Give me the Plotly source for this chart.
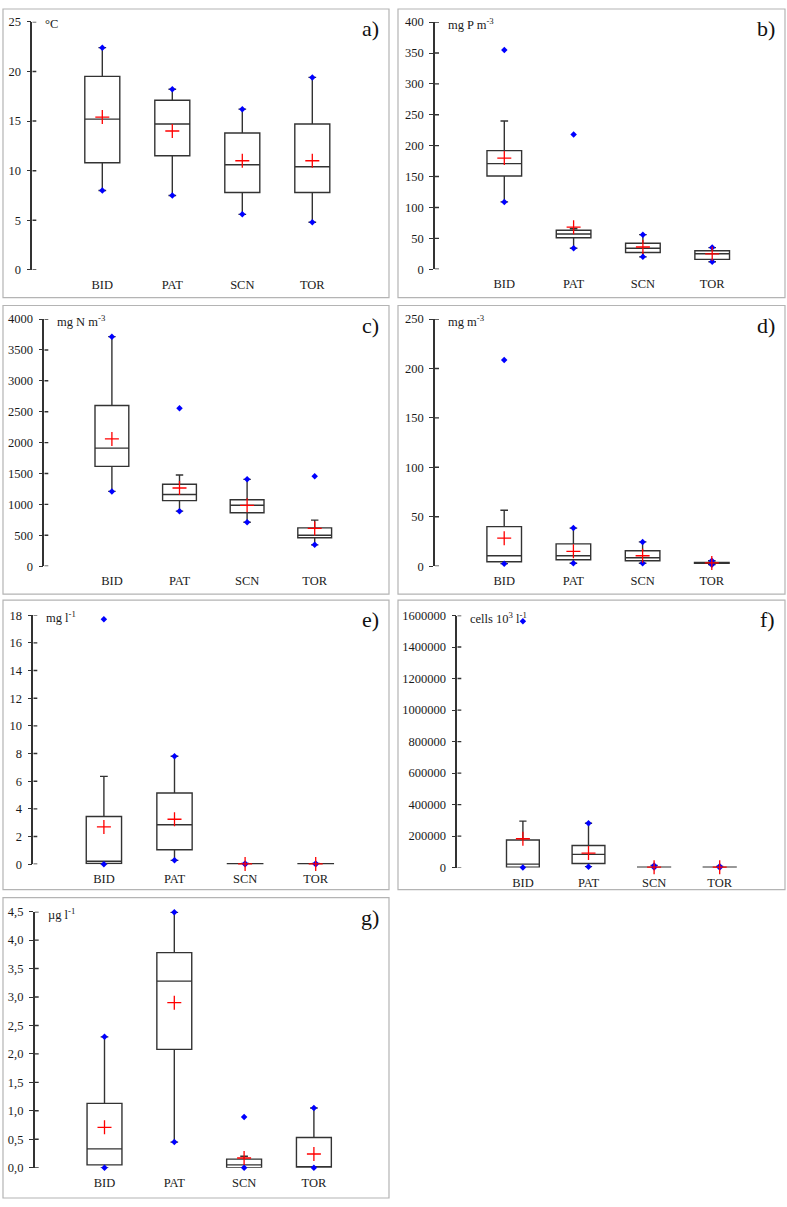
import plotly.graph_objects as go

W, H = 787, 1207

SITES = ["BID", "PAT", "SCN", "TOR"]

# a) water temperature
TEMP_Q1 = [10.8, 11.5, 7.8, 7.8]
TEMP_MED = [15.2, 14.7, 10.6, 10.4]
TEMP_Q3 = [19.5, 17.1, 13.8, 14.7]
TEMP_LO = [8.0, 7.5, 5.6, 4.8]
TEMP_HI = [22.4, 18.2, 16.2, 19.4]
TEMP_MIN = [8.0, 7.5, 5.6, 4.8]
TEMP_MAX = [22.4, 18.2, 16.2, 19.4]
TEMP_MEAN = [15.4, 14.0, 11.0, 11.0]

# b) total phosphorus
TP_Q1 = [151, 51, 27, 16]
TP_MED = [171, 57, 34, 25]
TP_Q3 = [192, 63, 42, 30]
TP_LO = [109, 34, 20, 12]
TP_HI = [240, 66, 56, 35]
TP_MIN = [109, 34, 20, 12]
TP_MAX = [355, 218, 56, 35]
TP_MEAN = [180, 68, 36, 25]

# c) total nitrogen
TN_Q1 = [1615, 1060, 865, 460]
TN_MED = [1910, 1160, 985, 500]
TN_Q3 = [2600, 1325, 1075, 620]
TN_LO = [1210, 890, 710, 345]
TN_HI = [3715, 1475, 1405, 745]
TN_MIN = [1210, 890, 710, 345]
TN_MAX = [3715, 2555, 1405, 1455]
TN_MEAN = [2060, 1265, 985, 610]

# d) chlorophyll
CHL_Q1 = [4.5, 6.5, 5.5, 2.8]
CHL_MED = [10.5, 10.5, 8.5, 3.3]
CHL_Q3 = [40, 22.5, 15.5, 3.8]
CHL_LO = [2.5, 3.0, 3.0, 1.5]
CHL_HI = [56.5, 38.5, 24.5, 5.5]
CHL_MIN = [2.5, 3.0, 3.0, 1.5]
CHL_MAX = [208.5, 38.5, 24.5, 5.5]
CHL_MEAN = [28.3, 15.0, 10.5, 3.3]

# e) mg l-1
E_Q1 = [0.05, 1.05, 0.0, 0.0]
E_MED = [0.22, 2.85, 0.01, 0.01]
E_Q3 = [3.45, 5.15, 0.03, 0.03]
E_LO = [0.0, 0.28, 0.0, 0.0]
E_HI = [6.35, 7.8, 0.05, 0.05]
E_MIN = [0.0, 0.28, 0.0, 0.0]
E_MAX = [17.7, 7.8, 0.05, 0.05]
E_MEAN = [2.7, 3.25, 0.02, 0.02]

# f) cells 10^3 l-1
F_Q1 = [2000, 26000, 0, 0]
F_MED = [22000, 84000, 500, 500]
F_Q3 = [175000, 140000, 2000, 2000]
F_LO = [0, 6000, 0, 0]
F_HI = [295000, 282000, 14000, 8000]
F_MIN = [0, 6000, 0, 0]
F_MAX = [1564000, 282000, 14000, 8000]
F_MEAN = [183000, 92000, 3000, 3000]

# g) ug l-1
G_Q1 = [0.05, 2.08, 0.0, 0.0]
G_MED = [0.33, 3.28, 0.05, 0.0]
G_Q3 = [1.13, 3.78, 0.15, 0.53]
G_LO = [0.0, 0.45, 0.0, 0.0]
G_HI = [2.30, 4.49, 0.20, 1.05]
G_MIN = [0.0, 0.45, 0.0, 0.0]
G_MAX = [2.30, 4.49, 0.89, 1.05]
G_MEAN = [0.71, 2.90, 0.17, 0.24]


# panel geometry in pixels: axis x, plot top, plot bottom, category spacing, frame box
PANELS = [
    dict(letter="a)", unit="°C", ax=32.3, top=15.0, bot=266.0, sp=70.0, ymax=25, dtick=5, fmt="d",
         frame=(3, 2, 389, 294), data=(TEMP_Q1, TEMP_MED, TEMP_Q3, TEMP_LO, TEMP_HI, TEMP_MIN, TEMP_MAX, TEMP_MEAN)),
    dict(letter="b)", unit="mg P m<sup>-3</sup>", ax=435.0, top=15.3, bot=265.3, sp=69.3, ymax=400, dtick=50, fmt="d",
         frame=(398, 2, 785, 294), data=(TP_Q1, TP_MED, TP_Q3, TP_LO, TP_HI, TP_MIN, TP_MAX, TP_MEAN)),
    dict(letter="c)", unit="mg N m<sup>-3</sup>", ax=44.3, top=315.7, bot=565.7, sp=67.6, ymax=4000, dtick=500, fmt="d",
         frame=(3, 302, 389, 594), data=(TN_Q1, TN_MED, TN_Q3, TN_LO, TN_HI, TN_MIN, TN_MAX, TN_MEAN)),
    dict(letter="d)", unit="mg m<sup>-3</sup>", ax=435.0, top=315.7, bot=565.7, sp=69.2, ymax=250, dtick=50, fmt="d",
         frame=(398, 302, 785, 594), data=(CHL_Q1, CHL_MED, CHL_Q3, CHL_LO, CHL_HI, CHL_MIN, CHL_MAX, CHL_MEAN)),
    dict(letter="e)", unit="mg l<sup>-1</sup>", ax=33.3, top=615.3, bot=867.3, sp=70.6, ymax=18, dtick=2, fmt="d",
         frame=(3, 600, 389, 893), data=(E_Q1, E_MED, E_Q3, E_LO, E_HI, E_MIN, E_MAX, E_MEAN)),
    dict(letter="f)", unit="cells 10<sup>3</sup> l<sup>-1</sup>", ax=457.3, top=615.7, bot=870.7, sp=65.6,
         ymax=1600000, dtick=200000, fmt="d",
         frame=(398, 600, 785, 893), data=(F_Q1, F_MED, F_Q3, F_LO, F_HI, F_MIN, F_MAX, F_MEAN)),
    dict(letter="g)", unit="µg l<sup>-1</sup>", ax=34.7, top=915.3, bot=1174.3, sp=69.8, ymax=4.5, dtick=0.5, fmt=".1f",
         frame=(3, 901, 389, 1205), data=(G_Q1, G_MED, G_Q3, G_LO, G_HI, G_MIN, G_MAX, G_MEAN)),
]

FONT = "'Liberation Serif', 'Times New Roman', Times, serif"
INK = "#333333"
XPOS = list(range(len(SITES)))

fig = go.Figure()
shapes = []
annotations = []

for i, p in enumerate(PANELS):
    n = "" if i == 0 else str(i + 1)
    xref, yref = "x" + n, "y" + n
    q1, med, q3, lo, hi, vmin, vmax, vmean = p["data"]

    fig.add_trace(go.Box(
        x=XPOS, q1=q1, median=med, q3=q3, lowerfence=lo, upperfence=hi,
        width=0.5, whiskerwidth=0.22, boxpoints=False,
        fillcolor="rgba(0,0,0,0)", line=dict(color=INK, width=1.4),
        xaxis=xref, yaxis=yref, showlegend=False, hoverinfo="skip"
    ))

    fig.add_trace(go.Scatter(
        x=XPOS + XPOS, y=list(vmin) + list(vmax), mode="markers",
        marker=dict(symbol="diamond", size=5, color="#0000ff"),
        cliponaxis=False, xaxis=xref, yaxis=yref, showlegend=False
    ))

    fig.add_trace(go.Scatter(
        x=XPOS, y=vmean, mode="markers",
        marker=dict(symbol="cross-thin", size=10, line=dict(color="#ff0000", width=1.3)),
        cliponaxis=False, xaxis=xref, yaxis=yref, showlegend=False
    ))

    x0 = p["ax"] / W
    x1 = (p["ax"] + 4.6 * p["sp"]) / W
    y0 = 1 - p["bot"] / H
    y1 = 1 - p["top"] / H

    fig.layout["xaxis" + n] = dict(
        domain=[x0, min(x1, 1.0)], range=[-1, 3.6], anchor=yref,
        tickvals=XPOS, ticktext=SITES, ticks="outside", ticklen=3,
        tickcolor="rgba(0,0,0,0)", showline=False, showgrid=False, zeroline=False,
        tickfont=dict(family=FONT, size=12.5, color="#1a1a1a")
    )
    fig.layout["yaxis" + n] = dict(
        domain=[y0, y1], range=[0, p["ymax"]], anchor=xref,
        dtick=p["dtick"], tick0=0, tickformat=p["fmt"],
        ticks="outside", ticklen=4, tickwidth=1.4, tickcolor=INK,
        ticklabelstandoff=3,
        showline=True, linecolor=INK, linewidth=1.5,
        showgrid=False, zeroline=False,
        tickfont=dict(family=FONT, size=12.5, color="#1a1a1a")
    )

    # inner half of the crossing tick marks
    k = 0
    while k * p["dtick"] <= p["ymax"] + 1e-9:
        v = k * p["dtick"]
        shapes.append(dict(
            type="line", xref=xref, yref=yref, xsizemode="pixel", xanchor=-1,
            x0=0, x1=4, y0=v, y1=v, line=dict(color=INK, width=1.4)
        ))
        k += 1

    fx0, fy0, fx1, fy1 = p["frame"]
    shapes.append(dict(
        type="rect", xref="paper", yref="paper",
        x0=fx0 / W, x1=fx1 / W, y0=1 - fy1 / H, y1=1 - fy0 / H,
        line=dict(color="#b4b4b4", width=1.2)
    ))

    annotations.append(dict(
        text=p["unit"], xref="paper", yref="paper",
        x=(p["ax"] + 11) / W, y=1 - (p["top"] + 2) / H,
        xanchor="left", yanchor="middle", showarrow=False,
        font=dict(family=FONT, size=12.5, color="#1a1a1a")
    ))
    annotations.append(dict(
        text=p["letter"], xref="paper", yref="paper",
        x=(fx1 - 8) / W, y=1 - (fy0 + 20) / H,
        xanchor="right", yanchor="middle", showarrow=False,
        font=dict(family=FONT, size=22, color="#111111")
    ))

fig.update_layout(
    width=W, height=H,
    margin=dict(l=0, r=0, t=0, b=0),
    paper_bgcolor="white", plot_bgcolor="white",
    font=dict(family=FONT),
    separators=",.",
    shapes=shapes, annotations=annotations,
    showlegend=False
)

fig.write_html(
    "out.html",
    config={"displayModeBar": False},
    post_script="document.body.style.margin='0';document.body.style.overflow='hidden';"
)
